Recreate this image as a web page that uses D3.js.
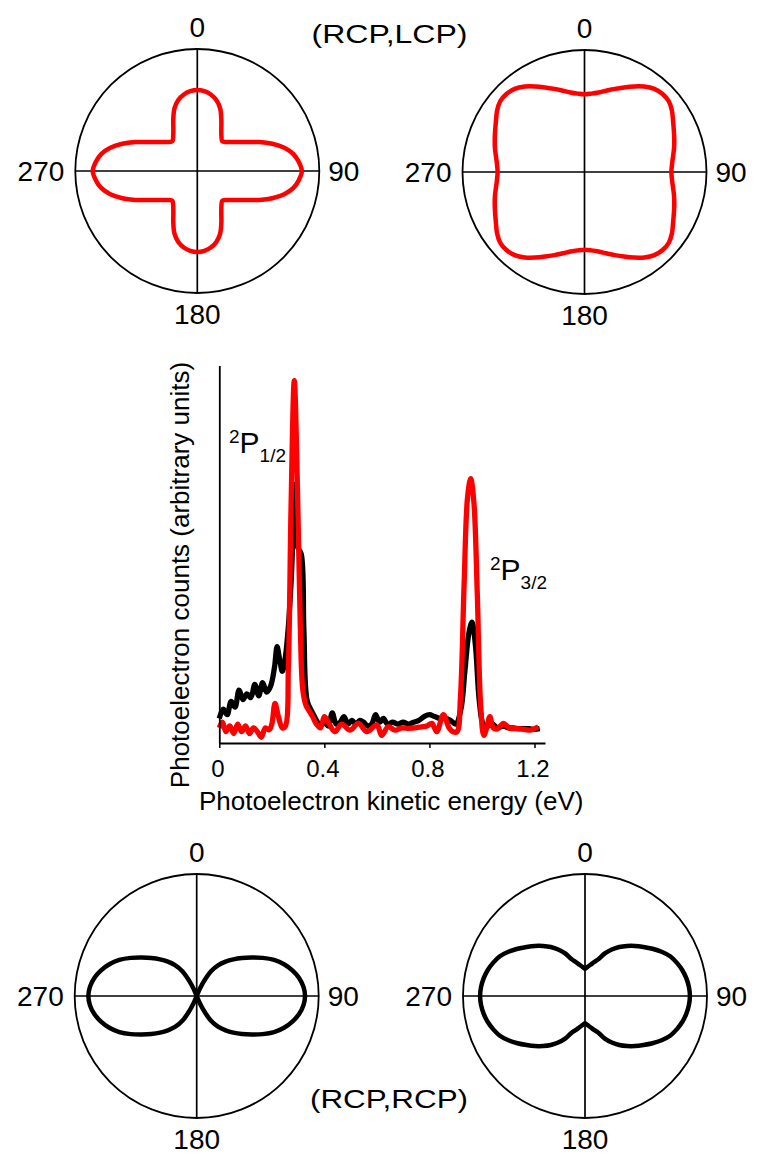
<!DOCTYPE html>
<html lang="en">
<head>
<meta charset="UTF-8">
<title>Photoelectron spectra and angular distributions</title>
<style>
  body { margin: 0; background: #fff; }
  svg { display: block; font-family: "Liberation Sans", Arial, sans-serif; }
</style>
</head>
<body>
<div id="chart"></div>
<script src="https://cdn.jsdelivr.net/npm/d3@7/dist/d3.min.js"></script>
<script>
const quadrantAngles = [0, 5, 10, 15, 20, 25, 30, 35, 40, 45, 50, 55, 60, 65, 70, 75, 80, 85, 90];
const crossRcpLcp  = [0.664, 0.657, 0.637, 0.602, 0.547, 0.466, 0.393, 0.345, 0.318, 0.336, 0.369, 0.415, 0.475, 0.562, 0.654, 0.738, 0.800, 0.836, 0.857];
const squareRcpLcp = [0.637, 0.645, 0.662, 0.690, 0.725, 0.765, 0.810, 0.855, 0.890, 0.905, 0.902, 0.875, 0.838, 0.808, 0.783, 0.760, 0.737, 0.720, 0.712];
const lobesRcpRcp  = [0, 0, 0, 0, 0.010, 0.110, 0.235, 0.310, 0.368, 0.425, 0.485, 0.550, 0.625, 0.700, 0.762, 0.812, 0.852, 0.878, 0.888];
const peanutRcpRcp = [0.224, 0.240, 0.260, 0.288, 0.320, 0.385, 0.440, 0.490, 0.535, 0.580, 0.625, 0.675, 0.725, 0.770, 0.800, 0.825, 0.843, 0.855, 0.860];
const polarLabels = ["0", "90", "180", "270"];

// spectrum: [kinetic energy (eV), counts (arb.)]
const blackSpectrum = [
  [0.00, 6.5], [0.015, 9], [0.03, 7.5], [0.045, 11], [0.06, 9.5], [0.075, 14], [0.09, 11.5],
  [0.105, 13], [0.12, 12], [0.135, 15.5], [0.15, 12.5], [0.165, 16], [0.18, 13.5], [0.195, 15],
  [0.21, 20], [0.22, 25.5], [0.23, 22], [0.24, 19], [0.25, 22], [0.262, 30], [0.275, 45],
  [0.288, 68.5], [0.298, 52], [0.312, 50], [0.322, 30], [0.335, 11], [0.355, 8], [0.37, 6],
  [0.385, 4.5], [0.40, 5.5], [0.415, 4.5], [0.43, 8], [0.445, 5], [0.46, 5.5], [0.475, 7],
  [0.49, 5], [0.505, 6], [0.52, 5], [0.535, 6], [0.55, 5.5], [0.565, 4.5], [0.58, 5],
  [0.595, 7.5], [0.61, 5.5], [0.625, 6.5], [0.64, 5], [0.66, 5.5], [0.68, 5], [0.70, 5.5],
  [0.72, 5], [0.74, 5.5], [0.76, 6], [0.78, 7], [0.80, 7.5], [0.82, 7], [0.84, 6.5],
  [0.86, 6.5], [0.88, 6], [0.90, 5], [0.92, 9], [0.935, 19], [0.95, 29], [0.962, 32],
  [0.975, 26], [0.99, 11], [1.005, 5], [1.02, 4.5], [1.04, 5], [1.06, 4], [1.08, 4.5],
  [1.10, 4], [1.12, 4], [1.14, 3.8], [1.16, 3.8], [1.18, 3.8], [1.20, 3.6], [1.22, 3.8]
];
const redSpectrum = [
  [0.00, 4], [0.012, 5.5], [0.025, 3], [0.04, 4.5], [0.055, 2.5], [0.07, 5], [0.085, 3],
  [0.10, 4.5], [0.115, 2.5], [0.13, 4], [0.145, 3], [0.16, 1.5], [0.175, 4], [0.19, 3.5],
  [0.20, 5], [0.212, 10.5], [0.225, 7], [0.24, 4], [0.252, 4.5], [0.263, 20], [0.273, 62],
  [0.2855, 96], [0.298, 66], [0.308, 32], [0.318, 14], [0.33, 10], [0.342, 8.5], [0.355, 7],
  [0.37, 5], [0.385, 4], [0.40, 7], [0.415, 5.5], [0.44, 3], [0.466, 5], [0.497, 3.4],
  [0.53, 5.2], [0.561, 3], [0.60, 4.8], [0.618, 2], [0.643, 4.3], [0.669, 3.4], [0.695, 4],
  [0.72, 3.9], [0.745, 4], [0.77, 4.3], [0.79, 4.5], [0.809, 5.2], [0.828, 3], [0.853, 7.5],
  [0.875, 4], [0.89, 3], [0.905, 3], [0.918, 12], [0.932, 42], [0.945, 65], [0.957, 70],
  [0.969, 64], [0.982, 40], [0.995, 10], [1.007, 2], [1.018, 4], [1.03, 7], [1.043, 4],
  [1.056, 3.7], [1.07, 4.5], [1.081, 5.2], [1.095, 4.5], [1.107, 3.9], [1.13, 3.8],
  [1.155, 3.7], [1.183, 3.4], [1.20, 3.8], [1.215, 4.3]
];
const xTicks = [0, 0.4, 0.8, 1.2];

const W = 757, H = 1155, R = 122;

const svg = d3.select("#chart").append("svg")
  .attr("width", W).attr("height", H);
svg.append("rect").attr("width", W).attr("height", H).attr("fill", "#fff");

// mirror one quadrant into the full closed curve
function fullCircle(q) {
  const pts = [];
  quadrantAngles.forEach((a, i) => pts.push([a, q[i]]));
  for (let i = q.length - 2; i >= 0; i--) pts.push([180 - quadrantAngles[i], q[i]]);
  for (let i = 1; i < q.length; i++) pts.push([180 + quadrantAngles[i], q[i]]);
  for (let i = q.length - 2; i >= 1; i--) pts.push([360 - quadrantAngles[i], q[i]]);
  return pts;
}

function drawPolar(cx, cy, quadrant, color) {
  const g = svg.append("g").attr("transform", `translate(${cx},${cy})`);
  const r = d3.scaleLinear().domain([0, 1]).range([0, R]);

  g.append("circle").attr("r", R)
    .attr("fill", "none").attr("stroke", "#000").attr("stroke-width", 1.8);
  g.append("line").attr("x1", -R).attr("x2", R).attr("y1", 0).attr("y2", 0)
    .attr("stroke", "#000").attr("stroke-width", 1.7);
  g.append("line").attr("x1", 0).attr("x2", 0).attr("y1", -R).attr("y2", R)
    .attr("stroke", "#000").attr("stroke-width", 1.7);

  const radial = d3.lineRadial()
    .angle(d => d[0] * Math.PI / 180)
    .radius(d => r(d[1]))
    .curve(d3.curveCatmullRomClosed.alpha(0.5));

  g.append("path").datum(fullCircle(quadrant))
    .attr("d", radial)
    .attr("fill", "none").attr("stroke", color)
    .attr("stroke-width", 4.5).attr("stroke-linejoin", "round");

  const pos = [
    { x: 0, y: -R - 12, anchor: "middle" },
    { x: R + 9, y: 10, anchor: "start" },
    { x: 0, y: R + 31, anchor: "middle" },
    { x: -R - 11, y: 10, anchor: "end" }
  ];
  polarLabels.forEach((t, i) => {
    g.append("text").attr("x", pos[i].x).attr("y", pos[i].y)
      .attr("text-anchor", pos[i].anchor)
      .attr("font-size", 28).attr("fill", "#000").text(t);
  });
}

drawPolar(197.3, 171, crossRcpLcp, "#ff0000");
drawPolar(584.5, 172, squareRcpLcp, "#ff0000");
drawPolar(196.7, 996, lobesRcpRcp, "#000");
drawPolar(585, 996, peanutRcpRcp, "#000");

svg.append("text").attr("x", 311.5).attr("y", 43)
  .attr("font-size", 26).attr("textLength", 156).attr("lengthAdjust", "spacingAndGlyphs")
  .text("(RCP,LCP)");
svg.append("text").attr("x", 310).attr("y", 1108)
  .attr("font-size", 26).attr("textLength", 158).attr("lengthAdjust", "spacingAndGlyphs")
  .text("(RCP,RCP)");

// spectrum
const x = d3.scaleLinear().domain([0, 1.24]).range([219.3, 545]);
const y = d3.scaleLinear().domain([0, 100]).range([743, 365.5]);

const line = d3.line()
  .x(d => x(d[0])).y(d => y(d[1]))
  .curve(d3.curveCatmullRom.alpha(0.5));

svg.append("path").datum(blackSpectrum).attr("d", line)
  .attr("fill", "none").attr("stroke", "#000").attr("stroke-width", 5.3)
  .attr("stroke-linejoin", "round");
svg.append("path").datum(redSpectrum).attr("d", line)
  .attr("fill", "none").attr("stroke", "#ff0000").attr("stroke-width", 5.3)
  .attr("stroke-linejoin", "round");

const xAxis = svg.append("g").attr("transform", `translate(0,${y(0)})`)
  .call(d3.axisBottom(x).tickValues(xTicks).tickSize(5).tickSizeOuter(0)
    .tickFormat(d => d === 0 ? "0" : d3.format(".1f")(d)));
xAxis.select(".domain").attr("stroke-width", 1.8);
xAxis.selectAll(".tick line").attr("stroke-width", 1.5);
xAxis.selectAll(".tick text").attr("font-size", 24).attr("font-family", null)
  .attr("y", 0).attr("dy", 34).attr("dx", -2).attr("fill", "#000");

const yAxis = svg.append("g").attr("transform", `translate(${x(0)},0)`)
  .call(d3.axisLeft(y).tickValues([]).tickSizeOuter(0));
yAxis.select(".domain").attr("stroke-width", 1.8);

svg.append("text").attr("x", 199).attr("y", 810)
  .attr("font-size", 26).text("Photoelectron kinetic energy (eV)");
svg.append("text")
  .attr("transform", "translate(189,575) rotate(-90)")
  .attr("text-anchor", "middle").attr("font-size", 26)
  .text("Photoelectron counts (arbitrary units)");

function stateLabel(x0, y0, sub) {
  const t = svg.append("text").attr("x", x0).attr("y", y0).attr("fill", "#000");
  t.append("tspan").attr("font-size", 19).text("2");
  t.append("tspan").attr("font-size", 30).attr("dy", 10).text("P");
  t.append("tspan").attr("font-size", 19).attr("dy", 8.5).text(sub);
}
stateLabel(229, 443, "1/2");
stateLabel(490, 570, "3/2");
</script>
</body>
</html>
